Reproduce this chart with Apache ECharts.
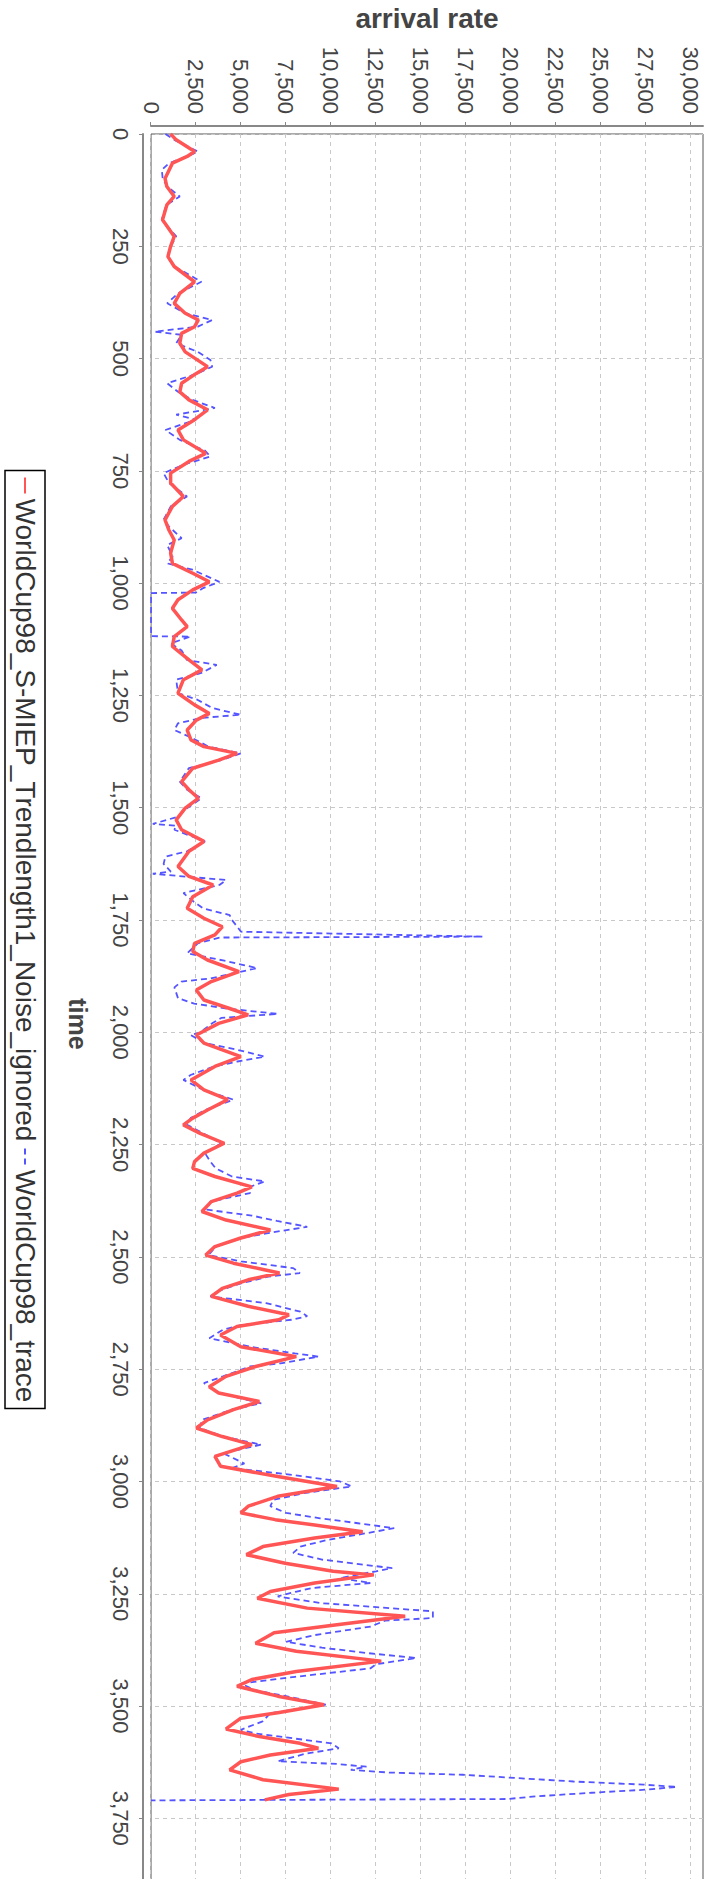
<!DOCTYPE html>
<html>
<head>
<meta charset="utf-8">
<script src="https://cdn.jsdelivr.net/npm/echarts@6/dist/echarts.min.js"></script>
<style>
html, body { margin: 0; padding: 0; background: #fff; width: 713px; height: 1879px; overflow: hidden; }
/* chart is drawn landscape, then turned a quarter clockwise like the reference */
#chart { position: absolute; left: 0; top: 0; width: 1879px; height: 713px;
         transform-origin: 0 0; transform: translateX(713px) rotate(90deg); }
</style>
</head>
<body>
<div id="chart"></div>
<script>
var trendName = 'WorldCup98_S-MIEP_Trendlength1_Noise_ignored';
var traceName = 'WorldCup98_trace';

var rateTicks = [0, 2500, 5000, 7500, 10000, 12500, 15000, 17500, 20000, 22500, 25000, 27500, 30000];
var timeTicks = [0, 250, 500, 750, 1000, 1250, 1500, 1750, 2000, 2250, 2500, 2750, 3000, 3250, 3500, 3750];

var trendTime = [0,13,39,50,65,99,117,139,158,191,228,250,273,295,329,355,377,399,414,
  429,444,466,485,518,533,555,574,592,614,636,659,681,711,729,755,777,807,829,859,
  881,904,933,956,978,997,1015,1037,1056,1082,1097,1119,1141,1171,1193,1215,1245,1271,1290,1305,
  1327,1349,1364,1379,1394,1412,1442,1460,1479,1501,1527,1549,1575,1597,1631,1653,1672,1698,1724,1746,
  1765,1783,1802,1820,1839,1865,1887,1906,1928,1947,1961,1980,2006,2024,2054,2076,2106,2128,2150,2173,2191,
  2206,2225,2247,2269,2288,2303,2321,2344,2358,2377,2399,2418,2440,2458,2477,2496,2514,2536,2551,2570,2588,2610,2629,
  2640,2655,2674,2700,2722,2744,2766,2789,2803,2822,2840,2863,2881,2900,2918,2944,2966,2989,3011,3033,3055,3070,
  3085,3097,3112,3126,3145,3163,3182,3200,3208,3226,3245,3260,3282,3300,3319,3337,3360,3378,3400,3423,3441,3456,3478,3497,3515,
  3527,3551,3568,3583,3594,3609,3624,3642,3664,3685,3697,3709];
var trendRate = [1090,1400,2420,2010,1190,780,880,1290,880,640,1290,1090,940,1290,2420,1600,1290,1900,2630,
  2420,1700,1600,1900,3140,2520,1700,1600,2110,3140,2420,1500,1800,3040,2110,1090,1090,1800,1190,780,
  985,1290,1090,1190,2320,3240,2320,1500,1190,1700,2010,1290,1190,2110,2830,1800,1500,2420,3240,2520,
  2010,2220,2940,4780,3760,2320,1700,2110,2630,1900,1400,1700,2940,2110,1500,2110,3450,2320,2010,2940,
  3960,3550,2420,2320,3140,4890,3350,2520,2940,4370,5400,3760,2520,2940,4990,3550,2220,2940,4270,3140,2320,
  1800,2730,4070,2940,2420,2320,3550,5600,4780,3350,2830,4170,6630,4990,3550,3040,4580,7140,5400,3960,3350,5400,7660,
  7100,4780,3860,4990,8070,5810,4170,3240,3760,6020,4580,3140,2520,3960,5600,3550,3860,7040,10330,7040,5400,4990,
  6900,9090,11760,9090,6220,5300,7450,10120,12380,9090,6630,5910,8680,14120,10330,6840,5810,8070,12790,8070,5600,4780,7040,9610,7040,
  4990,4170,6020,8270,9300,6630,4990,4370,6220,10430,7660,6320];

var traceTime = [0,13,39,50,65,80,99,117,139,158,191,228,250,273,295,329,355,377,399,414,
  429,440,447,466,485,503,518,533,555,574,592,610,625,636,659,681,705,718,735,755,777,807,829,859,
  874,900,915,941,956,970,997,1011,1021,1022,1118,1119,1134,1150,1171,1182,1200,1215,1245,1260,1278,1293,1300,
  1312,1327,1345,1364,1379,1394,1412,1442,1460,1479,1501,1520,1536,1540,1549,1575,1597,1609,1625,1642,1647,1661,1672,1690,1710,1724,1739,
  1750,1776,1787,1789,1802,1824,1840,1857,1880,1887,1900,1924,1936,1947,1959,1968,1980,2001,2006,2024,2039,2054,2065,2076,2095,2106,2128,2150,2173,2191,
  2206,2225,2247,2269,2288,2303,2321,2332,2344,2358,2377,2395,2408,2420,2433,2447,2458,2477,2496,2510,2525,2536,2544,2559,2575,2588,2603,2622,2632,
  2640,2652,2662,2681,2700,2715,2722,2737,2744,2766,2781,2803,2826,2840,2863,2881,2900,2918,2937,2960,2970,2986,3000,3011,3026,3041,3055,3070,3082,
  3093,3104,3115,3130,3145,3159,3174,3193,3200,3215,3226,3237,3245,3256,3271,3289,3304,3310,3323,3342,3357,3370,3382,3393,3407,3416,3435,3450,3465,3478,3497,3516,
  3534,3553,3561,3583,3594,3606,3623,3629,3635,3642,3648,3653,3660,3668,3675,3680,3686,3693,3701,3707,3710];
var traceRate = [800,1300,2600,2000,1000,600,650,900,1600,850,600,1400,1100,900,1300,2800,1500,900,1900,3400,
  2600,200,1700,1400,2600,3300,3400,2600,900,1500,2300,3550,1400,2500,800,1600,3000,3300,1900,700,1000,2000,1100,700,
  1000,1700,900,1200,900,2300,3800,2900,2500,0,0,2200,1100,1700,2000,3650,2800,1400,1500,2600,3400,5000,2800,
  1500,1300,2300,3200,4990,3900,2100,1600,2000,2800,2000,1500,100,1400,1300,3000,2000,800,700,1100,100,4170,3800,1800,2400,2900,4370,
  4500,5000,18440,3800,2600,2010,4000,5900,3300,1700,1300,1500,2400,4200,7040,3900,3400,2700,2200,3000,4800,6320,4800,3500,2200,1800,2900,4580,3000,2200,
  2000,2900,3900,3000,3300,3600,4500,6320,5500,5500,3300,3100,5600,7000,8680,6500,5000,3600,3200,5000,7900,8270,6500,5000,3800,3300,6400,8300,8680,
  7800,5000,4000,3240,5500,8000,9300,7200,5500,4000,2940,3800,6120,4500,2830,2700,4000,6120,4000,5190,4500,8000,10500,11150,8500,6800,6630,7500,9400,
  11500,13510,12000,9800,8300,7900,9500,13400,12500,10500,12200,9000,8100,7040,9500,15660,15660,13000,12200,9100,7500,9500,12000,14740,12500,12200,8000,5000,5800,7500,9710,6630,
  6200,4990,5800,10020,10430,8600,7040,10330,11970,11100,13200,17310,20180,23470,27370,29210,27570,24490,21410,19770,0];

function pairs(xs, ys) {
  var out = [];
  for (var i = 0; i < xs.length; i++) out.push([xs[i], ys[i]]);
  return out;
}
function fmt(v) { return Math.round(v).toLocaleString('en-US'); }

var font = 'Liberation Sans';
var chart = echarts.init(document.getElementById('chart'), null, {renderer: 'svg', width: 1879, height: 713});

var option = {
  animation: false,
  backgroundColor: '#fff',
  textStyle: {fontFamily: font},
  grid: {
    left: 134, right: -35, top: 10, bottom: 151,
    outerBoundsMode: 'none', containLabel: false,
    show: true, borderColor: '#555', borderWidth: 1, backgroundColor: '#fff'
  },
  legend: {
    left: 'center', bottom: 5,
    data: [
      {name: trendName, lineStyle: {width: 2}, itemStyle: {opacity: 0}},
      {name: traceName, lineStyle: {width: 2}, itemStyle: {opacity: 0}}
    ],
    itemWidth: 16, itemHeight: 12, itemGap: 6,
    padding: [6, 6],
    borderColor: '#000', borderWidth: 1.5, backgroundColor: '#fff',
    textStyle: {fontSize: 28, color: '#333', fontFamily: font}
  },
  xAxis: {
    type: 'value', min: 0, max: 3963, interval: 250, offset: 8,
    name: 'time', nameLocation: 'middle', nameGap: 53,
    nameTextStyle: {fontSize: 25, fontWeight: 'bold', color: '#444', fontFamily: font},
    axisLine: {show: true, onZero: false, lineStyle: {color: '#888', width: 2}},
    axisTick: {show: true, length: 4, lineStyle: {color: '#888'}, customValues: timeTicks},
    axisLabel: {fontSize: 22, color: '#444', margin: 12, formatter: fmt, customValues: timeTicks},
    splitLine: {show: true, lineStyle: {color: '#c8c8c8', type: [4, 4]}}
  },
  yAxis: {
    type: 'value', min: 0, max: 30667, interval: 2500, offset: 8,
    name: 'arrival rate', nameLocation: 'middle', nameGap: 94,
    nameTextStyle: {fontSize: 28, fontWeight: 'bold', color: '#444', fontFamily: font},
    axisLine: {show: true, onZero: false, lineStyle: {color: '#888', width: 2}},
    axisTick: {show: true, length: 4, lineStyle: {color: '#888'}, customValues: rateTicks},
    axisLabel: {fontSize: 22, color: '#444', margin: 12, formatter: fmt, customValues: rateTicks},
    splitLine: {show: true, lineStyle: {color: '#c8c8c8', type: [4, 4]}}
  },
  series: [
    {
      name: trendName, type: 'line', z: 3,
      symbol: 'none', showSymbol: false,
      itemStyle: {color: '#ff5555'},
      lineStyle: {color: '#ff5555', width: 3.5},
      data: pairs(trendTime, trendRate)
    },
    {
      name: traceName, type: 'line', z: 2,
      symbol: 'none', showSymbol: false,
      itemStyle: {color: '#5555ff'},
      lineStyle: {color: '#5555ff', width: 1.8, type: [6, 4]},
      data: pairs(traceTime, traceRate)
    }
  ]
};

chart.setOption(option);
</script>
</body>
</html>
